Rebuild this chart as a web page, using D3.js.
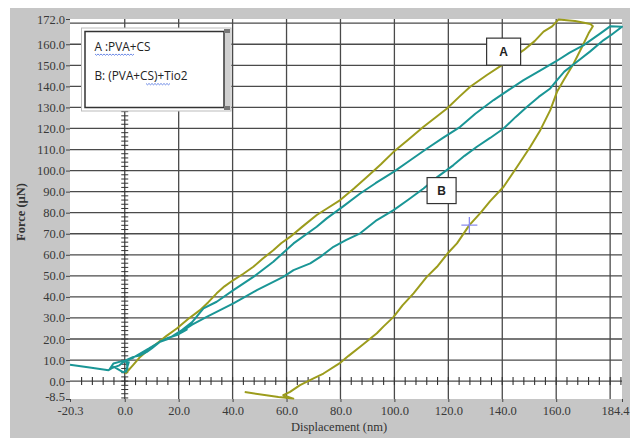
<!DOCTYPE html>
<html><head><meta charset="utf-8">
<script src="https://cdn.jsdelivr.net/npm/d3@7"></script>
<style>body{margin:0;background:#fff}svg{display:block}</style>
</head><body>
<svg id="chart" width="630" height="438"></svg>
<script>
// ---- data ----
const xTickValues = [-20.3, 0, 20, 40, 60, 80, 100, 120, 140, 160, 184.4];
const xTickLabels = ["-20.3","0.0","20.0","40.0","60.0","80.0","100.0","120.0","140.0","160.0","184.4"];
const yTickValues = [-8.5,0,10,20,30,40,50,60,70,80,90,100,110,120,130,140,150,160,172];
const yTickLabels = ["-8.5","0.0","10.0","20.0","30.0","40.0","50.0","60.0","70.0","80.0","90.0","100.0","110.0","120.0","130.0","140.0","150.0","160.0","172.0"];
const xGrid = [0,20,40,60,80,100,120,140,160,180];
const yGrid = [0,10,20,30,40,50,60,70,80,90,100,110,120,130,140,150,160,170];
const legendLines = ["A :PVA+CS", "B: (PVA+CS)+Tio2"];

// Curve A : PVA+CS (olive)
const curveA_x = [0.2,3,5.7,8.5,11.9,15.5,19.3,23.5,27.9,31,34.1,37,40.3,44,47.7,51,55.1,58,61.3,66,71.2,75,79.9,85,89.8,95,99.7,105,110.8,115,119.5,124,128.1,134.3,141,147.9,152,155.3,158.5,160.9,167,172.7,173.6,172,169.6,166.5,162.8,160.3,157.8,154.1,150.4,145.5,140.5,135.5,132,127.8,123.2,119.7,115.8,112,107.1,103,99.7,96,93.5,87.3,83,79.6,73.7,70,65,61.3,58.8,62.5,57,44.5];
const curveA_y = [3.5,7.5,11.5,14.5,17.9,21.5,25,29.5,33.7,37.5,41.7,45,48,51,54.3,58,62.2,65.5,68.5,73.5,78.9,82,86,91.5,97,103,108.9,114.5,120.8,125,129.5,135,139.8,145.4,151,157.2,161.5,166,168.5,171.8,171,169.6,168.6,165.2,158.8,150.9,143,137.4,128.7,119.2,111.3,101.8,92.3,85.5,80,74.1,65.4,60.6,54.3,49.5,41.7,36,30.5,26,22.7,16.3,12,8.4,3.6,1.3,-1.9,-5.1,-6.7,-8.3,-7.6,-5.2];

// Curve B : (PVA+CS)+TiO2 (teal)
const curveB_x = [-20.3,-13,-6,-4,-0.5,0.5,1.5,-1,-4.2,-5.5,-2,0.5,3.2,5.7,8.2,10,13.1,16,19.3,23.5,21,25,29.2,34.1,40.3,47.7,55.1,62.6,71.2,74.9,81,87.3,93,99.7,106,112.1,118,124.4,130,136.8,142,147.9,154,159.7,165,170.2,176.4,180.1,184.4,180.5,177.6,172.5,167.7,163,160.3,157.8,153.5,149.2,145,140.5,135.5,130.6,126,121.9,116,110.8,105,99.7,93.5,87.3,82,77.4,72.5,68.8,62.6,58.8,49,40.3,30.4,25,21,23,19.3,16,13.1,9,5.7,3,0.7,1,0.3];
const curveB_y = [7.8,6.5,5.2,6.8,4.2,5,9,9.5,8.4,5.8,7.5,10,11.5,12.2,13.9,15.5,18.7,20,22.7,26,24,28,34.5,37.7,43.2,49.5,56.7,65.4,73.3,77.3,83,89.1,94,99.4,105,110.5,115.5,120.8,127,133.5,138,143,147.5,151.7,156,159.6,165.2,168.6,168.3,164.5,162,156.5,151.7,147,143,139,135,130.3,125.5,120,115.5,111.3,107,102.6,97,91.5,86,81.2,76.5,70.2,67,63.8,59,55.9,52.7,49.5,43.2,36.9,30.5,26.8,23.5,24.5,21.9,20.5,18.7,15.5,13.1,11,10,6,4];

const marker = {x: 127.8, y: 74.1};
const labelA = {x: 140.5, y: 156.5, text: "A"};
const labelB = {x: 117.5, y: 90.5, text: "B"};

// ---- layout ----
const svg = d3.select("#chart");
const W = 630, H = 438;
const plot = {left: 70, right: 622, top: 19, bottom: 399};
const x = d3.scaleLinear().domain([-20.3, 184.4]).range([plot.left, plot.right]);
const y = d3.scaleLinear().domain([-8.5, 172]).range([plot.bottom, plot.top]);

svg.append("rect").attr("width", W).attr("height", H).attr("fill", "#fff");
svg.append("rect").attr("x", 10).attr("y", 8).attr("width", W - 10).attr("height", H - 8).attr("fill", "#c6c6c6");
svg.append("rect").attr("x", plot.left).attr("y", plot.top)
  .attr("width", plot.right - plot.left).attr("height", plot.bottom - plot.top).attr("fill", "#fff");

const gridColor = "#4a4a4a";
const g = svg.append("g");
g.selectAll("line.vg").data(xGrid).join("line")
  .attr("x1", d => x(d)).attr("x2", d => x(d)).attr("y1", plot.top).attr("y2", plot.bottom)
  .attr("stroke", gridColor).attr("stroke-width", 1.3);
g.selectAll("line.hg").data(yGrid).join("line")
  .attr("y1", d => y(d)).attr("y2", d => y(d)).attr("x1", plot.left).attr("x2", plot.right)
  .attr("stroke", gridColor).attr("stroke-width", 1.3);

// minor ticks on zero axes
const minorX = d3.range(-16, 185, 4);
g.selectAll("line.mx").data(minorX).join("line")
  .attr("x1", d => x(d)).attr("x2", d => x(d)).attr("y1", y(0) - 4).attr("y2", y(0) + 4)
  .attr("stroke", "#333").attr("stroke-width", 1.1);
const minorY = d3.range(-8, 166, 2);
g.selectAll("line.my").data(minorY).join("line")
  .attr("y1", d => y(d)).attr("y2", d => y(d)).attr("x1", x(0) - 3.5).attr("x2", x(0) + 3.5)
  .attr("stroke", "#333").attr("stroke-width", 1);

// axes
const xAxis = d3.axisBottom(x).tickValues(xTickValues).tickFormat((d, i) => xTickLabels[i]).tickSize(3).tickPadding(4);
const yAxis = d3.axisLeft(y).tickValues(yTickValues).tickFormat((d, i) => yTickLabels[i]).tickSize(4).tickPadding(1);
const ax = svg.append("g").attr("transform", `translate(0,${plot.bottom})`).call(xAxis);
const ay = svg.append("g").attr("transform", `translate(${plot.left},0)`).call(yAxis);
[ax, ay].forEach(a => {
  a.select(".domain").remove();
  a.selectAll("line").attr("stroke", "#444");
  a.selectAll("text").attr("font-family", "Liberation Serif, serif").attr("font-size", 12.5).attr("fill", "#383838");
});
// keep the last x label inside the frame
ax.selectAll(".tick text").filter((d, i) => i === xTickValues.length - 1)
  .attr("text-anchor", "end").attr("dx", 7);
// lift the lowest y label clear of the first x label
ay.selectAll(".tick text").filter((d, i) => i === 0).attr("dy", "0.1em");

svg.append("text").attr("x", 339).attr("y", 431).attr("text-anchor", "middle")
  .attr("font-family", "Liberation Serif, serif").attr("font-size", 12.5).attr("fill", "#333")
  .text("Displacement (nm)");
svg.append("text").attr("transform", "translate(25,212) rotate(-90)").attr("text-anchor", "middle")
  .attr("font-family", "Liberation Serif, serif").attr("font-size", 12.5).attr("font-weight", "bold").attr("fill", "#333")
  .text("Force (µN)");

// curves
const line = d3.line().x(d => x(d[0])).y(d => y(d[1]));
const dataA = curveA_x.map((v, i) => [v, curveA_y[i]]);
const dataB = curveB_x.map((v, i) => [v, curveB_y[i]]);
svg.append("path").datum(dataA).attr("d", line).attr("fill", "none")
  .attr("stroke", "#9c9c1c").attr("stroke-width", 2).attr("stroke-linejoin", "round");
svg.append("path").datum(dataB).attr("d", line).attr("fill", "none")
  .attr("stroke", "#1a9696").attr("stroke-width", 2).attr("stroke-linejoin", "round");

// cursor marker
const mx = x(marker.x), my = y(marker.y);
svg.append("path").attr("d", `M${mx - 8},${my}H${mx + 8}M${mx},${my - 8}V${my + 8}`)
  .attr("stroke", "#8a8cf0").attr("stroke-width", 1.3);

// label boxes
[[labelA, 34, 27], [labelB, 29, 26]].forEach(([lab, w, h]) => {
  const cx = x(lab.x), cy = y(lab.y);
  svg.append("rect").attr("x", cx - w / 2).attr("y", cy - h / 2).attr("width", w).attr("height", h)
    .attr("fill", "#fff").attr("stroke", "#333").attr("stroke-width", 1.2);
  svg.append("text").attr("x", cx).attr("y", cy + 4.5).attr("text-anchor", "middle")
    .attr("font-family", "Liberation Sans, Arial, sans-serif").attr("font-weight", "bold").attr("font-size", 12)
    .attr("fill", "#222").text(lab.text);
});

// legend box
svg.append("rect").attr("x", 81.5).attr("y", 28).attr("width", 149.5).attr("height", 83)
  .attr("fill", "#fff").attr("stroke", "#bbb").attr("stroke-width", 1);
svg.append("rect").attr("x", 224.5).attr("y", 29).attr("width", 6).attr("height", 81).attr("fill", "#d0d0d0");
svg.append("rect").attr("x", 85).attr("y", 31.5).attr("width", 139).attr("height", 76)
  .attr("fill", "#fff").attr("stroke", "#333").attr("stroke-width", 1.5);
[[224, 29], [224, 106]].forEach(([px, py]) =>
  svg.append("rect").attr("x", px).attr("y", py).attr("width", 6).attr("height", 4).attr("fill", "#777"));
const legY = [51, 80];
legendLines.forEach((t, i) => {
  svg.append("text").attr("x", 94.5).attr("y", legY[i])
    .attr("font-family", "Open Sans, sans-serif").attr("font-size", 11.8).attr("fill", "#222").text(t);
});
// spell-check squiggles
function squiggle(x0, x1, yy) {
  let d = `M${x0},${yy}`;
  for (let xx = x0, k = 0; xx < x1; xx += 1.5, k++) d += `L${xx + 1.5},${yy + (k % 2 ? 0 : 1.3)}`;
  svg.append("path").attr("d", d).attr("fill", "none").attr("stroke", "#4a6ee0").attr("stroke-width", 0.8);
}
squiggle(95, 134, 54);
squiggle(146, 170, 83.5);
</script>
</body></html>
